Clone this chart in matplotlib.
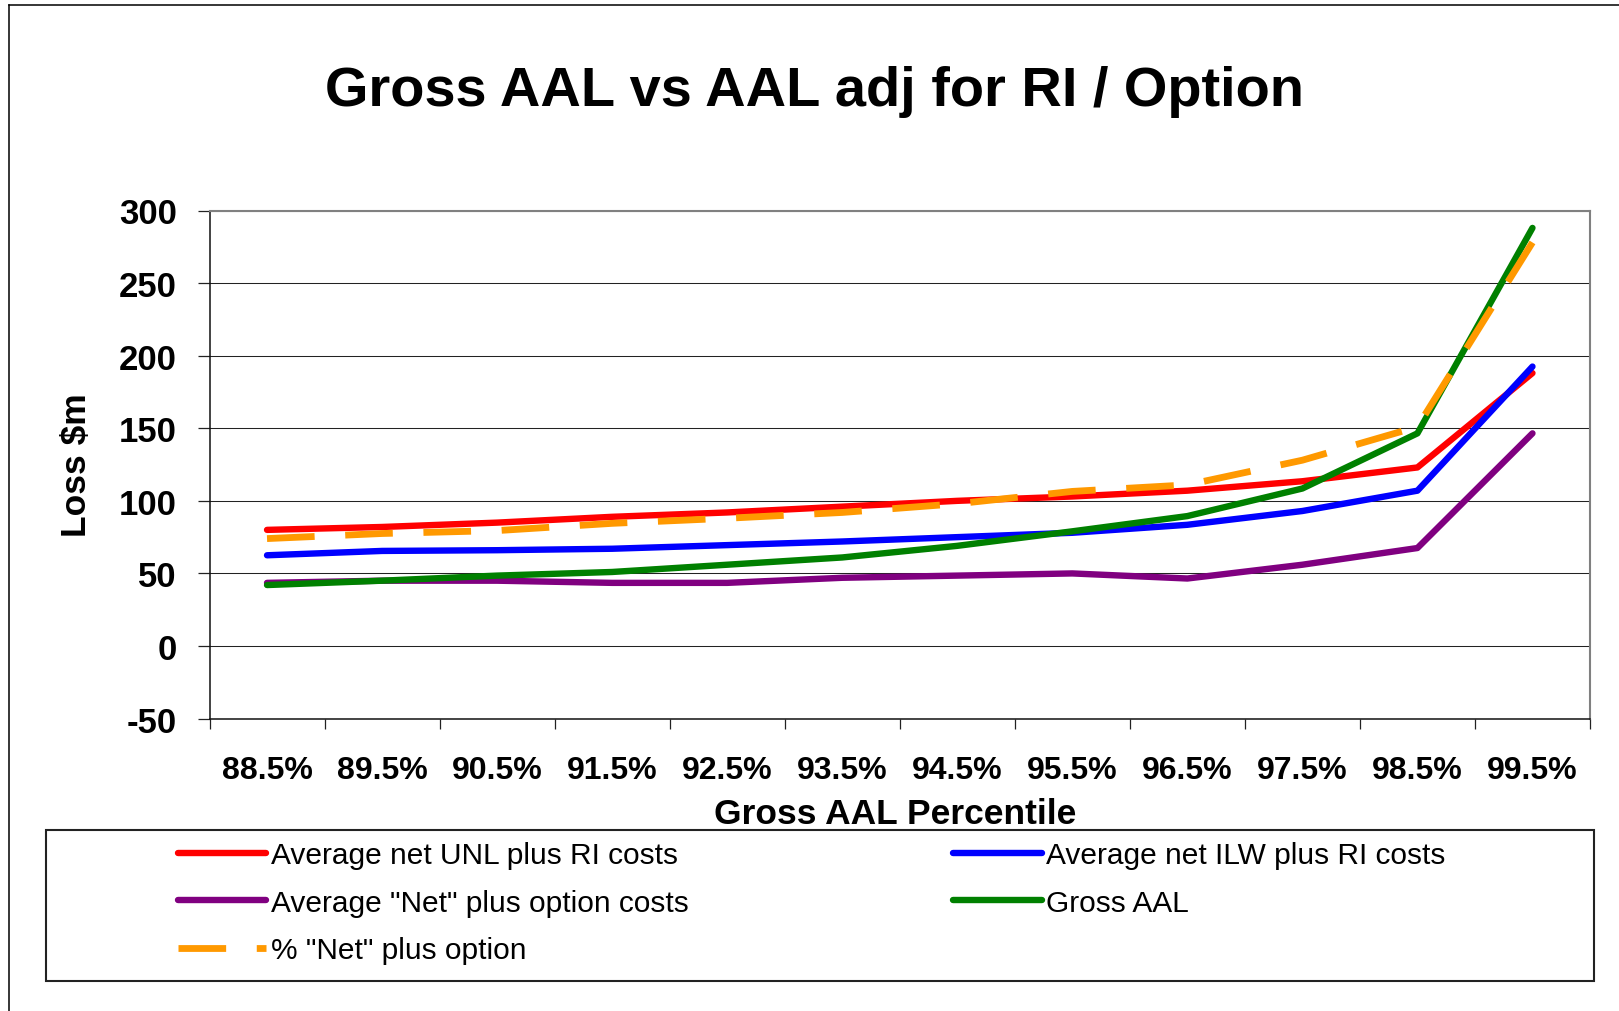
import numpy as np
import matplotlib
matplotlib.use("Agg")
import matplotlib.pyplot as plt
from matplotlib.lines import Line2D
from matplotlib.patches import Rectangle

plt.rcParams['font.family'] = ['Liberation Sans', 'DejaVu Sans']
plt.rcParams['axes.unicode_minus'] = False

# данные
percentiles = ["88.5%", "89.5%", "90.5%", "91.5%", "92.5%", "93.5%",
               "94.5%", "95.5%", "96.5%", "97.5%", "98.5%", "99.5%"]
unl_ri = [80, 82, 85, 89, 92, 96, 100, 103, 107, 113.5, 123, 188]
ilw_ri = [62.5, 65.5, 66, 67, 69.5, 72, 75, 78, 83.5, 93, 107, 192.5]
net_option = [43.5, 45, 45, 43.5, 43.5, 47, 48.5, 50, 46.5, 56, 67.5, 146.5]
gross_aal = [42, 45, 48.5, 51, 56, 61, 69, 79, 89.5, 108.5, 146.5, 288]
pct_net_option = [74, 77.5, 79.5, 84.5, 88, 92, 98, 106.5, 111, 128, 151, 278]

W, H = 1619, 1012
fig = plt.figure(figsize=(W / 100, H / 100), dpi=100)


def fx(px):  # пиксели -> доли фигуры
    return px / W


def fy(py):
    return 1 - py / H


ax = fig.add_axes([fx(209.5), fy(719.6), fx(1590) - fx(209.5), fy(211.5) - fy(719.6)])

x = np.arange(len(percentiles))
lw = 4.6
l_red, = ax.plot(x, unl_ri, color="#FF0000", lw=lw, solid_capstyle="round")
l_blue, = ax.plot(x, ilw_ri, color="#0000FF", lw=lw, solid_capstyle="round")
l_purple, = ax.plot(x, net_option, color="#800080", lw=lw, solid_capstyle="round")
l_green, = ax.plot(x, gross_aal, color="#008000", lw=lw, solid_capstyle="round")
l_orange, = ax.plot(x, pct_net_option, color="#FF9900", lw=4.9,
                    dashes=(7, 4.5), dash_capstyle="butt")

ax.set_xlim(-0.5, len(percentiles) - 0.5)
ax.set_ylim(-50, 300)
ax.set_yticks(np.arange(-50, 301, 50))
ax.yaxis.grid(True, color="#222222", lw=0.75)
ax.set_axisbelow(True)

# подписи категорий на минорных делениях, засечки - на границах
ax.set_xticks(np.arange(-0.5, len(percentiles), 1.0))
ax.set_xticklabels([])
ax.set_xticks(x, minor=True)
ax.set_xticklabels(percentiles, minor=True, fontsize=23, fontweight="bold")
ax.tick_params(axis="x", which="major", direction="out", length=7.2, width=0.9, color="#222222")
ax.tick_params(axis="x", which="minor", length=0, pad=26)
ax.tick_params(axis="y", direction="out", length=8.6, width=0.9, color="#222222",
               labelsize=25, pad=15)
for lab in ax.get_yticklabels():
    lab.set_fontweight("bold")

ax.spines["left"].set_color("#111111")
ax.spines["bottom"].set_color("#111111")
ax.spines["left"].set_linewidth(1.1)
ax.spines["bottom"].set_linewidth(1.1)
ax.spines["top"].set_color("#808080")
ax.spines["right"].set_color("#808080")
ax.spines["top"].set_linewidth(1.5)
ax.spines["right"].set_linewidth(1.5)

fig.text(fx(814.5), fy(106), "Gross AAL vs AAL adj for RI / Option",
         ha="center", va="baseline", fontsize=40.3, fontweight="bold")
fig.text(fx(895), fy(824), "Gross AAL Percentile",
         ha="center", va="baseline", fontsize=25.5, fontweight="bold")
fig.text(fx(76), fy(465), "Loss $m", rotation=90,
         ha="center", va="center", fontsize=25.5, fontweight="bold")

# рамка всей диаграммы
fig.add_artist(Line2D([fx(9), fx(9)], [fy(6), 0], color="black", lw=1.1))
fig.add_artist(Line2D([fx(9), 1], [fy(6), fy(6)], color="black", lw=1.1))

# рамка легенды
fig.add_artist(Rectangle((fx(46), fy(982)), fx(1594) - fx(46), fy(831) - fy(982),
                         fill=False, edgecolor="#222222", lw=1.5))

handles = [l_red, l_purple, l_orange, l_blue, l_green]
labels = ["Average net UNL plus RI costs", 'Average "Net" plus option costs',
          '% "Net" plus option', "Average net ILW plus RI costs", "Gross AAL"]
fig.legend(handles, labels, ncol=2, loc="upper left",
           bbox_to_anchor=(fx(178), fy(842)), frameon=False, borderpad=0,
           borderaxespad=0, fontsize=21.5, handlelength=2.95, handletextpad=0.15,
           columnspacing=8.88, labelspacing=0.66)

fig.savefig("out.png", dpi=100)
